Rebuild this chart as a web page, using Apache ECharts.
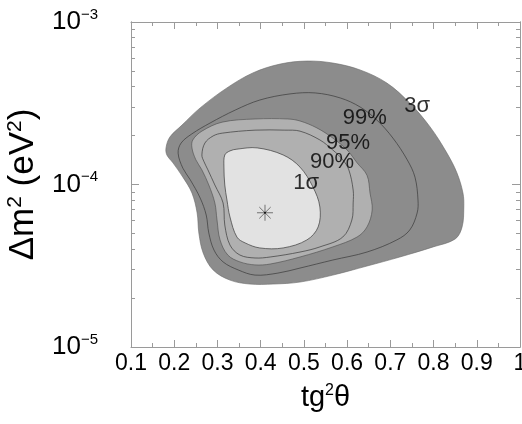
<!DOCTYPE html>
<html><head><meta charset="utf-8">
<script src="https://cdn.jsdelivr.net/npm/echarts@6/dist/echarts.min.js"></script>
<style>html,body{margin:0;padding:0;background:#fff}#c{width:522px;height:424px}</style>
</head><body><div id="c"></div>
<script>
// ---- data (tg^2 theta, delta m^2 in eV^2) ----
const xTickValues = [0.1,0.2,0.3,0.4,0.5,0.6,0.7,0.8,0.9,1];
const yMajorTicks = [1e-5,1e-4,1e-3];
const yMinorTicks = [2e-5,3e-5,4e-5,5e-5,6e-5,7e-5,8e-5,9e-5,2e-4,3e-4,4e-4,5e-4,6e-4,7e-4,8e-4,9e-4];

const contour3sigma = [[0.181,1.68e-4],[0.190,1.96e-4],[0.218,2.32e-4],[0.260,2.96e-4],[0.322,3.93e-4],[0.382,4.86e-4],[0.445,5.51e-4],[0.507,5.75e-4],[0.567,5.59e-4],[0.630,5.07e-4],[0.692,4.21e-4],[0.745,3.17e-4],[0.792,2.26e-4],[0.831,1.56e-4],[0.854,1.18e-4],[0.868,8.87e-5],[0.870,7.27e-5],[0.866,5.48e-5],[0.850,4.62e-5],[0.799,4.13e-5],[0.722,3.58e-5],[0.646,3.15e-5],[0.567,2.77e-5],[0.491,2.51e-5],[0.429,2.44e-5],[0.375,2.44e-5],[0.329,2.58e-5],[0.290,2.98e-5],[0.267,3.79e-5],[0.257,5.03e-5],[0.253,6.68e-5],[0.241,8.87e-5],[0.220,1.11e-4],[0.197,1.36e-4],[0.183,1.52e-4]];
const contour99 = [[0.209,1.56e-4],[0.216,1.80e-4],[0.241,2.05e-4],[0.283,2.39e-4],[0.341,2.87e-4],[0.398,3.31e-4],[0.468,3.61e-4],[0.526,3.66e-4],[0.584,3.41e-4],[0.630,3.00e-4],[0.669,2.49e-4],[0.706,1.93e-4],[0.739,1.42e-4],[0.757,1.11e-4],[0.764,8.03e-5],[0.762,6.68e-5],[0.745,5.25e-5],[0.715,4.56e-5],[0.646,3.84e-5],[0.567,3.43e-5],[0.491,3.06e-5],[0.440,2.85e-5],[0.387,2.77e-5],[0.348,2.98e-5],[0.313,3.34e-5],[0.292,3.95e-5],[0.280,5.03e-5],[0.274,6.49e-5],[0.260,8.26e-5],[0.237,1.07e-4],[0.220,1.26e-4]];
const contour95 = [[0.241,1.68e-4],[0.243,1.88e-4],[0.264,2.13e-4],[0.311,2.42e-4],[0.387,2.53e-4],[0.463,2.53e-4],[0.491,2.46e-4],[0.530,2.23e-4],[0.567,1.93e-4],[0.600,1.63e-4],[0.623,1.36e-4],[0.646,1.14e-4],[0.653,8.87e-5],[0.658,6.97e-5],[0.646,5.48e-5],[0.623,4.75e-5],[0.567,4.13e-5],[0.491,3.58e-5],[0.422,3.24e-5],[0.387,3.20e-5],[0.352,3.34e-5],[0.324,3.68e-5],[0.306,4.56e-5],[0.299,6.05e-5],[0.294,7.70e-5],[0.280,9.93e-5],[0.264,1.23e-4],[0.250,1.42e-4]];
const contour90 = [[0.264,1.52e-4],[0.271,1.80e-4],[0.290,1.99e-4],[0.311,2.07e-4],[0.387,2.16e-4],[0.456,2.16e-4],[0.491,2.13e-4],[0.537,1.88e-4],[0.567,1.63e-4],[0.590,1.42e-4],[0.604,1.23e-4],[0.614,9.25e-5],[0.614,7.70e-5],[0.611,6.05e-5],[0.590,4.75e-5],[0.537,4.13e-5],[0.491,3.84e-5],[0.422,3.58e-5],[0.387,3.53e-5],[0.352,3.68e-5],[0.329,4.24e-5],[0.317,5.63e-5],[0.313,7.70e-5],[0.294,9.93e-5],[0.278,1.23e-4],[0.269,1.38e-4]];
const contour1sigma = [[0.315,1.28e-4],[0.317,1.52e-4],[0.329,1.61e-4],[0.345,1.65e-4],[0.392,1.68e-4],[0.452,1.52e-4],[0.491,1.28e-4],[0.521,9.65e-5],[0.537,7.27e-5],[0.533,5.48e-5],[0.507,4.56e-5],[0.452,4.07e-5],[0.398,4.07e-5],[0.364,4.37e-5],[0.345,4.75e-5],[0.329,6.31e-5],[0.322,8.03e-5],[0.317,9.93e-5]];
const bestFit = [0.41, 6.7e-5];
const contourLabels = ['3σ','99%','95%','90%','1σ'];
const contourLabelPos = [[0.762,3.04e-4],[0.641,2.57e-4],[0.602,1.80e-4],[0.565,1.375e-4],[0.505,1.02e-4]];

const FONT = 'Liberation Sans, Arial, Helvetica, sans-serif';
const DARK = '#8c8c8c', MID = '#b0b0b0', LIGHT = '#e2e2e2';

function contourSeries(name, pts, fill, stroke, lw) {
  return {
    type: 'custom', name: name, data: pts, encode: {x: 0, y: 1}, clip: true, silent: true,
    renderItem: function (params, api) {
      if (params.dataIndex !== 0) return null;
      const points = pts.map(p => api.coord(p));
      return {type: 'polygon', shape: {points: points, smooth: 0.35},
        style: {fill: fill, stroke: stroke, lineWidth: lw}};
    }
  };
}

const chart = echarts.init(document.getElementById('c'), null, {renderer: 'canvas'});
const tickColor = '#9a9a9a';
function mkY(pos, customTicks, len, showLabel, extra) {
  return Object.assign({
    type: 'log', logBase: 10, min: 1e-5, max: 1e-3, position: pos,
    axisLine: {show: true, onZero: false, lineStyle: {color: tickColor, width: 1}},
    axisTick: {show: true, inside: true, length: len, customValues: customTicks, lineStyle: {color: tickColor}},
    splitLine: {show: false},
    axisLabel: {show: false}
  }, extra || {});
}
function mkX(pos, showLabel, extra) {
  return Object.assign({
    type: 'value', min: 0.1, max: 1, interval: 0.1, position: pos,
    axisLine: {show: true, onZero: false, lineStyle: {color: tickColor, width: 1}},
    axisTick: {show: true, inside: true, length: 7, lineStyle: {color: tickColor}},
    minorTick: {show: true, splitNumber: 2, length: 4, lineStyle: {color: tickColor}},
    splitLine: {show: false}, minorSplitLine: {show: false},
    axisLabel: {show: showLabel}
  }, extra || {});
}

const option = {
  animation: false,
  backgroundColor: '#fff',
  grid: {left: 131, right: 2, top: 22, bottom: 77, containLabel: false, outerBoundsMode: 'none'},
  xAxis: [
    mkX('bottom', true, {
      axisLabel: {show: true, fontSize: 23, fontFamily: FONT, color: '#000', margin: 5,
        customValues: xTickValues, hideOverlap: false,
        formatter: v => (Math.abs(v - 1) < 1e-9 ? '1' : v.toFixed(1))},
      name: '{a|tg}{s|2}{a|θ}', nameLocation: 'middle', nameGap: 36,
      nameTextStyle: {rich: {
        a: {fontSize: 29, fontFamily: FONT, color: '#000', lineHeight: 30},
        s: {fontSize: 16, fontFamily: FONT, color: '#000', verticalAlign: 'top', lineHeight: 16}
      }}
    }),
    mkX('top', false)
  ],
  yAxis: [
    mkY('left', yMajorTicks, 8, true, {
      axisLabel: {show: true, margin: 33, customValues: yMajorTicks,
        formatter: v => '{b|10}{s|−' + Math.round(-Math.log10(v)) + '}',
        rich: {
          b: {fontSize: 26, fontFamily: FONT, color: '#000', lineHeight: 30},
          s: {fontSize: 15, fontFamily: FONT, color: '#000', verticalAlign: 'top', lineHeight: 14}
        }},
      name: '{a|Δm}{s|2}{a| (eV}{s|2}{a|)}', nameLocation: 'middle', nameGap: 81,
      nameTextStyle: {rich: {
        a: {fontSize: 35, fontFamily: FONT, color: '#000', lineHeight: 38},
        s: {fontSize: 21, fontFamily: FONT, color: '#000', verticalAlign: 'top', lineHeight: 18}
      }}
    }),
    mkY('left', yMinorTicks, 4, false),
    mkY('right', yMajorTicks, 8, false),
    mkY('right', yMinorTicks, 4, false)
  ],
  series: [
    contourSeries('3σ', contour3sigma, DARK, '#6a6a6a', 0.6),
    contourSeries('99%', contour99, DARK, '#3a3a3a', 0.7),
    contourSeries('95%', contour95, MID, '#4a4a4a', 0.6),
    contourSeries('90%', contour90, MID, '#3a3a3a', 0.7),
    contourSeries('1σ', contour1sigma, LIGHT, '#3a3a3a', 0.7),
    {
      type: 'custom', name: 'best fit', data: [bestFit], encode: {x: 0, y: 1}, silent: true,
      renderItem: function (params, api) {
        const c = api.coord([api.value(0), api.value(1)]);
        const r = 8, d = 5.7;
        const st = {stroke: '#555', lineWidth: 0.8};
        return {type: 'group', children: [
          {type: 'line', shape: {x1: c[0] - r, y1: c[1], x2: c[0] + r, y2: c[1]}, style: st},
          {type: 'line', shape: {x1: c[0], y1: c[1] - r, x2: c[0], y2: c[1] + r}, style: st},
          {type: 'line', shape: {x1: c[0] - d, y1: c[1] - d, x2: c[0] + d, y2: c[1] + d}, style: st},
          {type: 'line', shape: {x1: c[0] - d, y1: c[1] + d, x2: c[0] + d, y2: c[1] - d}, style: st},
          {type: 'circle', shape: {cx: c[0], cy: c[1], r: 1}, style: {fill: '#111'}}
        ]};
      }
    },
    {
      type: 'scatter', name: 'labels', symbolSize: 0, silent: true,
      data: contourLabels.map((n, i) => ({name: n, value: contourLabelPos[i]})),
      label: {show: true, position: 'inside', formatter: p => p.name,
        fontSize: 22, fontFamily: FONT, color: '#000'}
    }
  ]
};
chart.setOption(option);
</script>
</body></html>
